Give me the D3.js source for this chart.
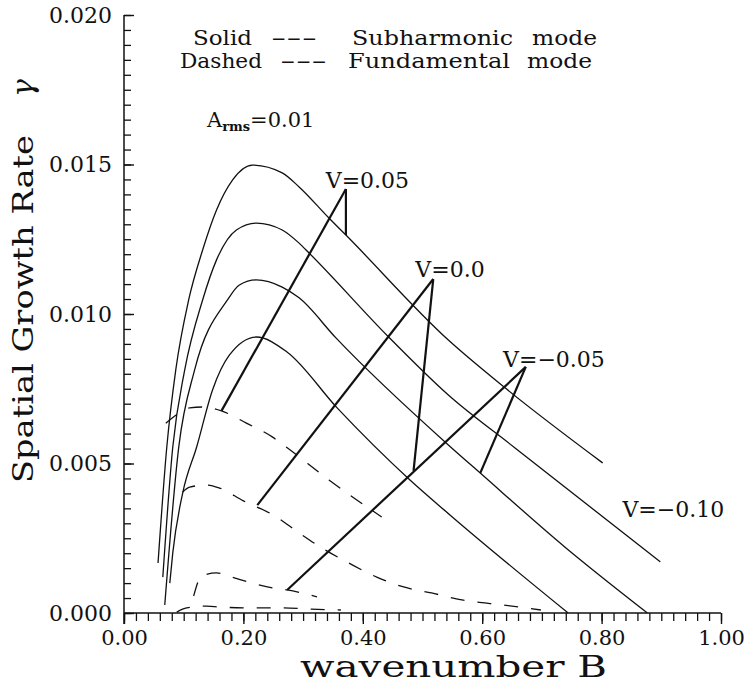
<!DOCTYPE html>
<html><head><meta charset="utf-8">
<script src="https://cdn.jsdelivr.net/npm/d3@7"></script>
<style>body{margin:0;background:#fff} svg{display:block}</style>
</head><body><svg id="c" width="746" height="687"></svg>
<script>
// ---------- data ----------
const xTickValues = [0, 0.2, 0.4, 0.6, 0.8, 1.0];
const xTickLabels = ["0.00", "0.20", "0.40", "0.60", "0.80", "1.00"];
const yTickValues = [0, 0.005, 0.010, 0.015, 0.020];
const yTickLabels = ["0.000", "0.005", "0.010", "0.015", "0.020"];

// Subharmonic mode (solid) [B, gamma]
const subV005 = [[0.057,0.00167],[0.0717,0.00555],[0.0867,0.00813],[0.1083,0.01047],[0.1317,0.01214],[0.155,0.01348],[0.1817,0.01448],[0.215,0.01498],[0.265,0.01472],[0.2933,0.01425],[0.3433,0.01321],[0.3717,0.01264],[0.5433,0.00913],[0.6383,0.00753],[0.8017,0.00502]];
const subV000 = [[0.065,0.0012],[0.0817,0.00555],[0.1017,0.00813],[0.1317,0.01047],[0.155,0.01181],[0.1883,0.01281],[0.2217,0.01304],[0.265,0.01281],[0.2933,0.01237],[0.31,0.01204],[0.4433,0.00923],[0.5433,0.00729],[0.655,0.00552],[0.8983,0.00171]];
const subVm005 = [[0.0683,0.00027],[0.0917,0.00555],[0.1183,0.00813],[0.1733,0.01047],[0.1933,0.01097],[0.2217,0.01114],[0.265,0.0109],[0.2933,0.01054],[0.355,0.00920],[0.5433,0.00562],[0.5967,0.00468],[0.7383,0.00221],[0.8767,0.0]];
const subVm010 = [[0.0767,0.0010],[0.0817,0.00201],[0.0983,0.00401],[0.1217,0.00555],[0.1483,0.00746],[0.1767,0.00863],[0.2217,0.00923],[0.273,0.00873],[0.357,0.00686],[0.479,0.00445],[0.546,0.00328],[0.744,0.0]];

// Fundamental mode (dashed)
const funV005 = [[0.07,0.00635],[0.09,0.00666],[0.11,0.00686],[0.1317,0.00689],[0.1633,0.00676],[0.205,0.00635],[0.2483,0.00589],[0.2717,0.00555],[0.3433,0.00445],[0.39,0.00378],[0.4317,0.00321]];
const funV000 = [[0.0983,0.00405],[0.11,0.00421],[0.1383,0.00428],[0.16,0.00418],[0.2,0.00375],[0.2533,0.00324],[0.2933,0.00268],[0.3317,0.00217],[0.3767,0.00167],[0.4233,0.0012],[0.4683,0.00087],[0.515,0.00067],[0.5683,0.00043],[0.635,0.00027],[0.6983,0.0001]];
const funVm005 = [[0.1167,0.00057],[0.13,0.00124],[0.155,0.00134],[0.18,0.0012],[0.215,0.0010],[0.2483,0.00084],[0.2733,0.00077],[0.3233,0.00054]];
const funVm010 = [[0.0883,0.00003],[0.105,0.00017],[0.1383,0.00023],[0.16,0.0002],[0.215,0.00017],[0.265,0.00017],[0.3133,0.00013],[0.3633,0.0001]];

// V labels and leader lines (data coords)
const vLabels = ["V=0.05", "V=0.0", "V=\u22120.05", "V=\u22120.10"];
const vLabelPos = [[0.338,0.01421],[0.488,0.01124],[0.635,0.00823],[0.835,0.00321]];
const leaderV005 = [[[0.3717,0.01418],[0.1633,0.00676]],[[0.3717,0.01418],[0.3717,0.01264]]];
const leaderV000 = [[[0.518,0.01117],[0.2233,0.00361]],[[0.518,0.01117],[0.485,0.00475]]];
const leaderVm005 = [[[0.673,0.00823],[0.2733,0.00077]],[[0.673,0.00823],[0.5967,0.00468]]];

// ---------- chart ----------
const svg = d3.select("#c");
const x = d3.scaleLinear().domain([0, 1]).range([124, 721]);
const y = d3.scaleLinear().domain([0, 0.02]).range([613, 15]);
const serif = "'DejaVu Serif', 'Liberation Serif', serif";
const ink = "#111";

function styleTicks(g, w) {
  g.select(".domain").remove();
  g.selectAll(".tick line").attr("stroke", ink).attr("stroke-width", w);
}

// x axis: minor ticks every 0.02, major every 0.2 (pointing down)
const xMinor = d3.range(0, 51).map(i => i * 0.02);
svg.append("g").attr("class", "xminor").attr("transform", `translate(0,${y(0)})`)
  .call(d3.axisBottom(x).tickValues(xMinor).tickSizeInner(8).tickSizeOuter(0).tickFormat(() => ""))
  .call(g => styleTicks(g, 1.3));
svg.append("g").attr("class", "xmajor").attr("transform", `translate(0,${y(0)})`)
  .call(d3.axisBottom(x).tickValues(xTickValues).tickSizeInner(11).tickSizeOuter(0).tickPadding(6)
    .tickFormat((d, i) => xTickLabels[i]))
  .call(g => styleTicks(g, 1.4))
  .call(g => g.selectAll("text").attr("font-family", serif).attr("font-size", 21).attr("fill", ink));

// y axis: minor ticks every 0.0005, major every 0.005 (pointing inside)
const yMinor = d3.range(0, 41).map(i => i * 0.0005);
svg.append("g").attr("class", "yminor").attr("transform", `translate(${x(0)},0)`)
  .call(d3.axisLeft(y).tickValues(yMinor).tickSizeInner(-7).tickSizeOuter(0).tickFormat(() => ""))
  .call(g => styleTicks(g, 1.3));
svg.append("g").attr("class", "ymajor").attr("transform", `translate(${x(0)},0)`)
  .call(d3.axisLeft(y).tickValues(yTickValues).tickSizeInner(-10).tickSizeOuter(0).tickPadding(12)
    .tickFormat((d, i) => yTickLabels[i]))
  .call(g => styleTicks(g, 1.4))
  .call(g => g.selectAll("text").attr("font-family", serif).attr("font-size", 22).attr("fill", ink));

// axis lines
svg.append("line").attr("x1", x(0)).attr("x2", x(1)).attr("y1", y(0)).attr("y2", y(0))
  .attr("stroke", ink).attr("stroke-width", 1.5);
svg.append("line").attr("x1", x(0)).attr("x2", x(0)).attr("y1", y(0) + 11).attr("y2", y(0.02))
  .attr("stroke", ink).attr("stroke-width", 1.5);

// curves
const line = d3.line().x(d => x(d[0])).y(d => y(d[1])).curve(d3.curveMonotoneX);
[subV005, subV000, subVm005, subVm010].forEach(s => {
  svg.append("path").attr("d", line(s)).attr("fill", "none").attr("stroke", ink).attr("stroke-width", 1.3);
});
[funV005, funV000, funVm005, funVm010].forEach(s => {
  svg.append("path").attr("d", line(s)).attr("fill", "none").attr("stroke", ink).attr("stroke-width", 1.3)
    .attr("stroke-dasharray", "14,13");
});

// leader lines
[leaderV005, leaderV000, leaderVm005].forEach(L => L.forEach(seg => {
  svg.append("line").attr("x1", x(seg[0][0])).attr("y1", y(seg[0][1]))
    .attr("x2", x(seg[1][0])).attr("y2", y(seg[1][1]))
    .attr("stroke", ink).attr("stroke-width", 2.2);
}));

// V labels
vLabels.forEach((t, i) => {
  svg.append("text").attr("x", x(vLabelPos[i][0])).attr("y", y(vLabelPos[i][1]))
    .attr("font-family", serif).attr("font-size", 22).attr("fill", ink).text(t);
});

// legend
const legendWords = [
  ["Solid", 193, 45], ["---", 271, 45], ["Subharmonic", 352, 45], ["mode", 532, 45],
  ["Dashed", 180, 68], ["---", 280, 68], ["Fundamental", 348, 68], ["mode", 527, 68]
];
const legendWidths = [59, 46, 161, 65, 82, 47, 162, 65];
legendWords.forEach((w, i) => {
  svg.append("text").attr("x", w[1]).attr("y", w[2]).attr("font-family", serif).attr("font-size", 21)
    .attr("fill", ink).attr("textLength", legendWidths[i]).attr("lengthAdjust", "spacingAndGlyphs").text(w[0]);
});

// A_rms label
const arms = svg.append("text").attr("x", 207).attr("y", 127).attr("font-family", serif).attr("fill", ink);
arms.append("tspan").attr("font-size", 21).text("A");
arms.append("tspan").attr("font-size", 13).attr("font-weight", "bold").attr("dy", 4).text("rms");
arms.append("tspan").attr("font-size", 21).attr("dy", -4).text("=0.01");

// axis titles
svg.append("text").attr("x", 300).attr("y", 677).attr("font-family", serif).attr("font-size", 30)
  .attr("fill", ink).attr("textLength", 307).attr("lengthAdjust", "spacingAndGlyphs").text("wavenumber  B");
svg.append("text").attr("transform", "translate(33,483) rotate(-90)").attr("font-family", serif)
  .attr("font-size", 27).attr("fill", ink).attr("textLength", 348).attr("lengthAdjust", "spacingAndGlyphs")
  .text("Spatial Growth Rate");
svg.append("text").attr("transform", "translate(33,97) rotate(-90)").attr("font-family", serif)
  .attr("font-size", 30).attr("font-style", "italic").attr("fill", ink).text("\u03b3");
</script></body></html>
